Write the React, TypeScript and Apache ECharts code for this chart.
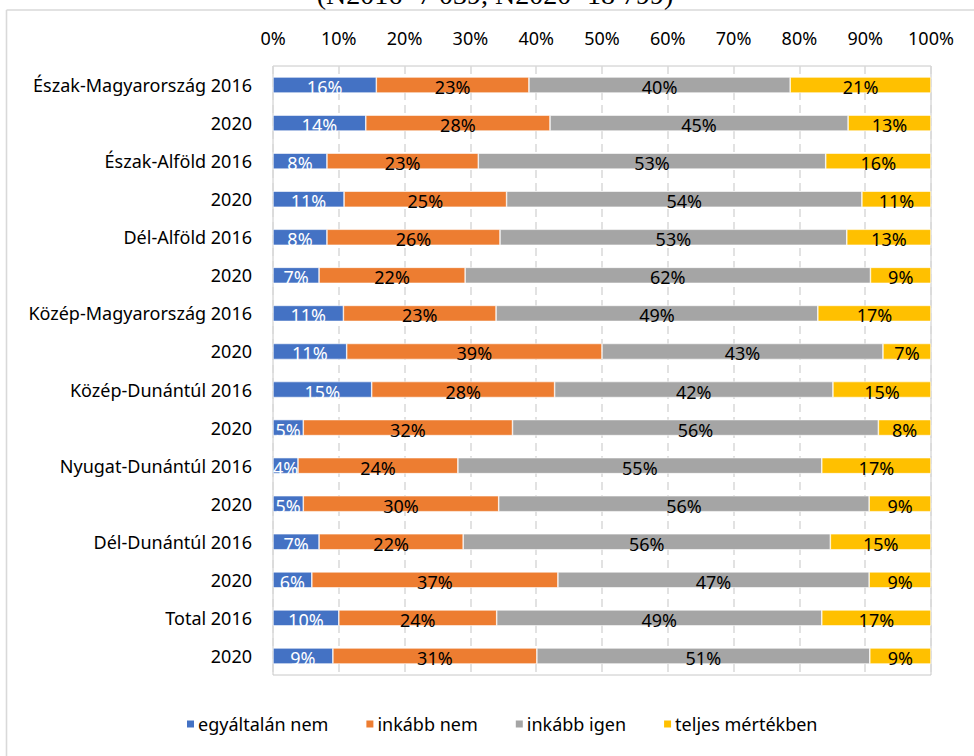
import React, { useEffect, useRef } from "react";
import * as echarts from "echarts";

const categories = [
  "Észak-Magyarország 2016",
  "2020",
  "Észak-Alföld 2016",
  "2020",
  "Dél-Alföld 2016",
  "2020",
  "Közép-Magyarország 2016",
  "2020",
  "Közép-Dunántúl 2016",
  "2020",
  "Nyugat-Dunántúl 2016",
  "2020",
  "Dél-Dunántúl 2016",
  "2020",
  "Total 2016",
  "2020",
];

const seriesNames = ["egyáltalán nem", "inkább nem", "inkább igen", "teljes mértékben"];

const egyaltalanNem = [15.7, 14.1, 8.2, 10.8, 8.2, 7.0, 10.7, 11.2, 15.0, 4.6, 3.8, 4.6, 7.0, 5.9, 10.0, 9.1];
const inkabbNem = [23.2, 28.0, 23.0, 24.7, 26.3, 22.2, 23.2, 38.8, 27.8, 31.8, 24.3, 29.7, 21.9, 37.4, 24.0, 31.0];
const inkabbIgen = [39.7, 45.3, 52.8, 54.0, 52.7, 61.6, 48.9, 42.7, 42.3, 55.6, 55.3, 56.3, 55.8, 47.3, 49.4, 50.6];
const teljesMertekben = [21.4, 12.6, 16.0, 10.5, 12.8, 9.2, 17.2, 7.3, 14.9, 8.0, 16.6, 9.4, 15.3, 9.4, 16.6, 9.3];

const xTicks = [0, 10, 20, 30, 40, 50, 60, 70, 80, 90, 100];

const colors = ["#4472C4", "#ED7D31", "#A5A5A5", "#FFC000"];
const labelColors = ["#FFFFFF", "#000000", "#000000", "#000000"];

const titleText = "(N2016=7 039, N2020=18 799)";

const FONT = "'Noto Sans', 'Open Sans', sans-serif";
const FS = 18;

export default function App() {
  const ref = useRef<HTMLDivElement>(null);

  useEffect(() => {
    document.body.style.margin = "0";
    if (!ref.current) return;
    const chart = echarts.init(ref.current, null, { renderer: "svg" });
    const data = [egyaltalanNem, inkabbNem, inkabbIgen, teljesMertekben];
    chart.setOption({
      animation: false,
      backgroundColor: "#FFFFFF",
      textStyle: { fontFamily: FONT },
      grid: {
        left: 273,
        right: 43,
        top: 66,
        bottom: 81,
        show: true,
        borderColor: "#C8C8C8",
        borderWidth: 1,
        backgroundColor: "transparent",
      },
      legend: {
        data: seriesNames,
        top: 710,
        left: 180,
        itemWidth: 9,
        itemHeight: 9,
        itemGap: 36,
        icon: "rect",
        textStyle: { fontFamily: FONT, fontSize: FS, color: "#000000", padding: [0, 0, 0, -2] },
      },
      xAxis: {
        type: "value",
        position: "top",
        min: xTicks[0],
        max: xTicks[xTicks.length - 1],
        interval: 10,
        axisLine: { show: false },
        axisTick: { show: false },
        axisLabel: {
          formatter: (v: number) => `${v}%`,
          fontSize: FS,
          color: "#000000",
          fontFamily: FONT,
          margin: 19,
        },
        splitLine: {
          show: true,
          lineStyle: { color: "#D9D9D9", width: 1.5, type: [8, 5] },
        },
      },
      yAxis: {
        type: "category",
        data: categories,
        inverse: true,
        axisLine: { show: false },
        axisTick: { show: false },
        axisLabel: {
          fontSize: FS,
          color: "#000000",
          fontFamily: FONT,
          margin: 21,
        },
        splitLine: { show: false },
      },
      series: seriesNames.map((name, i) => ({
        name,
        type: "bar",
        stack: "total",
        barWidth: 16,
        data: data[i],
        itemStyle: { color: colors[i], borderColor: "#FFFFFF", borderWidth: 0.6 },
        label: {
          show: true,
          position: "inside",
          offset: [0, 2],
          formatter: (p: any) => `${Math.round(p.value)}%`,
          color: labelColors[i],
          fontSize: FS,
          fontFamily: FONT,
        },
      })),
      graphic: [
        {
          type: "line",
          shape: { x1: 6.5, y1: 10, x2: 974, y2: 10 },
          style: { stroke: "#D9D9D9", lineWidth: 1.6 },
        },
        {
          type: "line",
          shape: { x1: 6.5, y1: 10, x2: 6.5, y2: 756 },
          style: { stroke: "#D9D9D9", lineWidth: 1.6 },
        },
        {
          type: "text",
          x: 495,
          y: 8,
          style: {
            text: titleText,
            fontFamily: "'Liberation Serif', 'Times New Roman', serif",
            fontSize: 28,
            fill: "#000000",
            align: "center",
            verticalAlign: "bottom",
          },
        },
      ],
    });
    return () => chart.dispose();
  }, []);

  return <div ref={ref} style={{ width: 974, height: 756 }} />;
}
